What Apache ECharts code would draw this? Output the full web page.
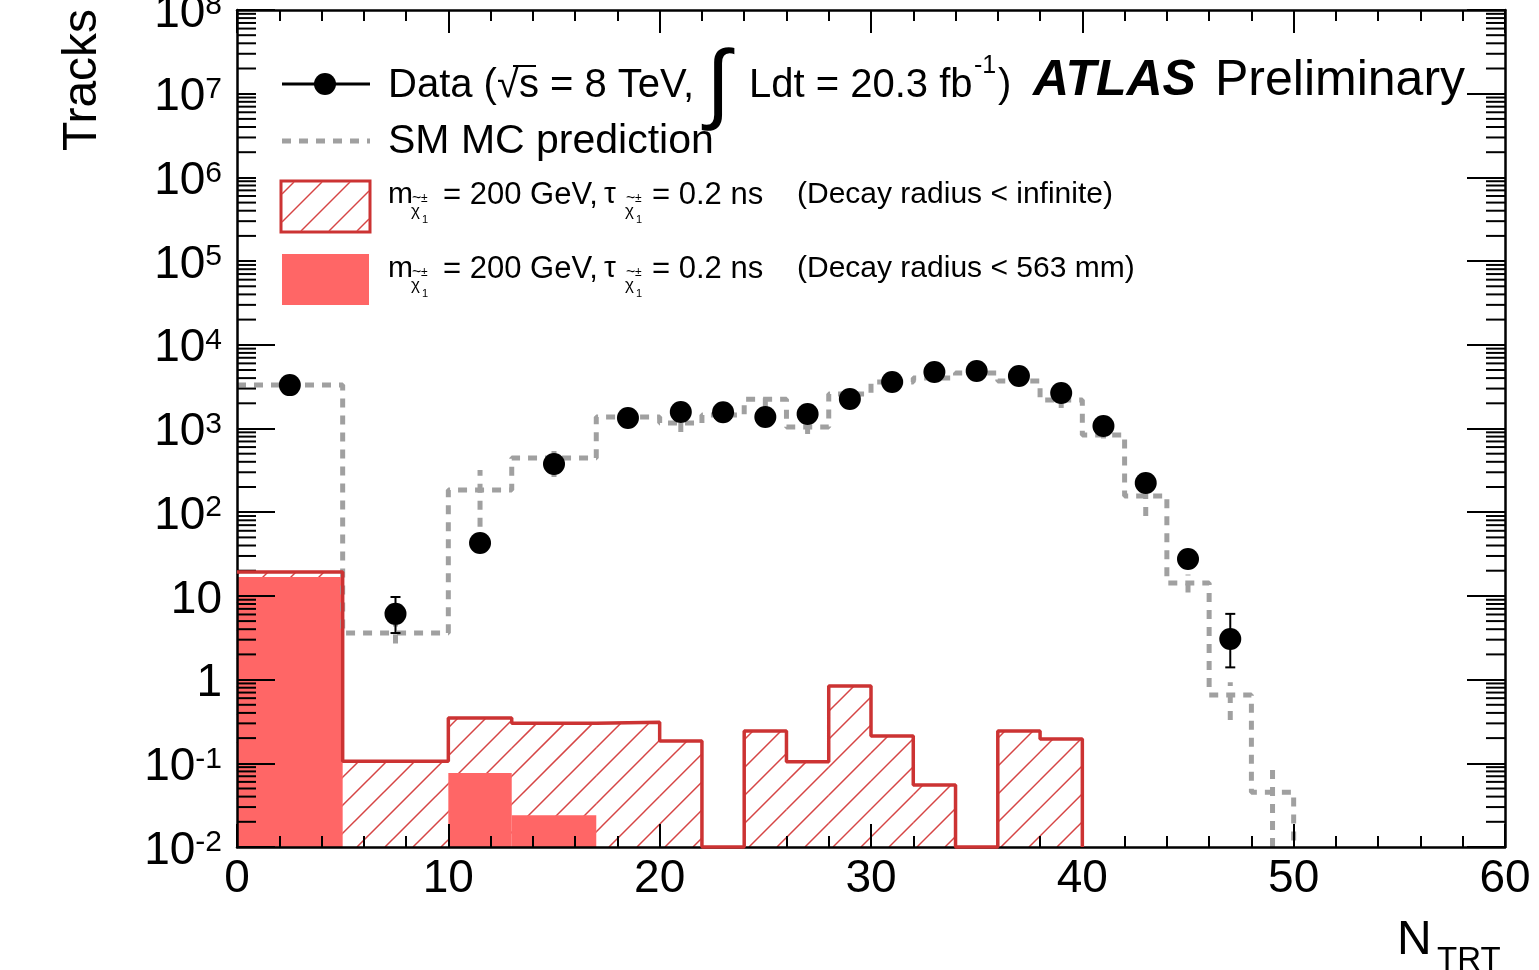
<!DOCTYPE html>
<html>
<head>
<meta charset="utf-8">
<script src="https://cdn.jsdelivr.net/npm/echarts@6/dist/echarts.min.js"></script>
<style>
html,body{margin:0;padding:0;background:#fff}
#chart{width:1539px;height:970px}
</style>
</head>
<body>
<div id="chart"></div>
<script>
// bin edges of the N_TRT histograms
var binEdges = [0,5,10,13,17,20,22,24,26,28,30,32,34,36,38,40,42,44,46,48,50];
// SM MC prediction per bin, with its error band
var mcValues = [3300,3.6,184,444,1370,1160,1450,2240,1040,2590,3590,4010,4600,3700,2190,836,156,14.3,0.655,0.045];
var mcLow    = [3200,2.7,67,263,1300,908,1380,1800,860,2450,3450,3850,4450,3550,1760,760,90,11,0.33,0.005];
var mcHigh   = [3400,4.6,319,553,1450,1420,1520,2730,1230,2730,3730,4170,4750,3850,2620,910,220,18,0.93,0.083];
// data points
var dataX    = [2.5,7.5,11.5,15,18.5,21,23,25,27,29,31,33,35,37,39,41,43,45,47];
var dataY    = [3300,6.1,42.9,377,1335,1574,1560,1371,1490,2250,3600,4730,4860,4240,2660,1070,223,27.6,3.05];
var dataLow  = [3243,3.6,36.4,358,1298,1534,1520,1334,1451,2203,3540,4661,4790,4175,2608,1037,208,22.4,1.4];
var dataHigh = [3357,9.7,49.5,396,1372,1614,1600,1408,1529,2297,3660,4799,4930,4305,2712,1103,238,32.9,6.1];
// signal, decay radius < infinite (hatched) and < 563 mm (filled)
var sigAll   = [19.3,0.106,0.348,0.30,0.31,0.185,0,0.243,0.104,0.84,0.212,0.055,0,0.243,0.195,0,0,0,0,0];
var sig563   = [16.8,0,0.0766,0.024,0,0,0,0,0,0,0,0,0,0,0,0,0,0,0,0];
// y axis decades (log10)
var yDecades = [-2,-1,0,1,2,3,4,5,6,7,8];

var YMIN = -2, YMAX = 8;
var FONT = 'Liberation Sans, Arial, sans-serif';
var RED = '#cc3333';
var HATCH = '#d64545';
var GRAY = '#a0a0a0';

function lg(v) { return v > 0 ? Math.max(Math.log10(v), YMIN) : YMIN; }

// hatch "/" lines inside a pixel rectangle
function hatchSegs(left, top, right, bottom, step, style) {
    var out = [];
    var c0 = Math.ceil((left + top) / step) * step;
    for (var c = c0; c <= right + bottom; c += step) {
        var xa = Math.max(left, c - bottom), xb = Math.min(right, c - top);
        if (xb > xa) out.push({type: 'line', shape: {x1: xa, y1: c - xa, x2: xb, y2: c - xb}, style: style});
    }
    return out;
}

function stepPts(vals) {
    var n = vals.length;
    while (n > 0 && !(vals[n - 1] > 0)) n--;
    var pts = [];
    for (var i = 0; i < n; i++) {
        var y = lg(vals[i]);
        pts.push([binEdges[i], y], [binEdges[i + 1], y]);
    }
    pts.push([binEdges[n], YMIN]);
    return pts;
}

var hatchData = [], fillData = [], mcErr = [], dataErr = [], dataPts = [], minorData = [];
for (var i = 0; i < sigAll.length; i++) {
    if (sigAll[i] > 0) hatchData.push([binEdges[i], lg(sigAll[i]), binEdges[i + 1]]);
    if (sig563[i] > 0) fillData.push([binEdges[i], lg(sig563[i]), binEdges[i + 1]]);
}
for (var i = 0; i < mcValues.length; i++) {
    mcErr.push([(binEdges[i] + binEdges[i + 1]) / 2, lg(mcLow[i]), lg(mcHigh[i])]);
}
for (var i = 0; i < dataX.length; i++) {
    dataPts.push([dataX[i], lg(dataY[i])]);
    dataErr.push([dataX[i], lg(dataLow[i]), lg(dataHigh[i])]);
}
for (var d = 0; d < yDecades.length - 1; d++) {
    for (var k = 2; k <= 9; k++) minorData.push([0, yDecades[d] + Math.log10(k)]);
}

function yLabel(v) {
    if (v === 0) return '{b|1}';
    if (v === 1) return '{b|10}';
    return '{b|10}{s|' + v + '}';
}

function xAxisOpt(pos) {
    return {
        type: 'value', min: 0, max: 60, interval: 10, position: pos, z: 10,
        axisLine: {show: true, onZero: false, lineStyle: {color: '#000', width: 2.5}},
        axisTick: {show: true, inside: true, length: 23, lineStyle: {color: '#000', width: 2}},
        minorTick: {show: true, splitNumber: 5, length: 11, lineStyle: {color: '#000', width: 2}},
        axisLabel: {show: pos === 'bottom', fontSize: 46, fontFamily: FONT, color: '#000', margin: 9, lineHeight: 46},
        splitLine: {show: false}, minorSplitLine: {show: false}
    };
}
function yAxisOpt(pos) {
    return {
        type: 'value', min: YMIN, max: YMAX, interval: 1, position: pos, z: 10,
        axisLine: {show: true, onZero: false, lineStyle: {color: '#000', width: 2.5}},
        axisTick: {show: true, inside: true, length: 38, lineStyle: {color: '#000', width: 2}},
        axisLabel: {
            show: pos === 'left', margin: 15, formatter: yLabel, padding: [8, 0, 0, 0],
            rich: {
                b: {fontSize: 46, fontFamily: FONT, color: '#000', lineHeight: 46},
                s: {fontSize: 30, fontFamily: FONT, color: '#000', lineHeight: 30, verticalAlign: 'top'}
            }
        },
        splitLine: {show: false}
    };
}

function txt(x, y, s, size, extra) {
    var st = {text: s, x: 0, y: 0, fontSize: size, fontFamily: FONT, fill: '#000', align: 'left', verticalAlign: 'middle'};
    for (var k in extra || {}) st[k] = extra[k];
    return {type: 'text', x: x, y: y, z: 52, style: st};
}
// chi~ subscript with tilde, +- and 1
function chiSub(x, y) {
    return [
        txt(x + 1, y + 4, '~', 16),
        txt(x + 10, y + 4, '\u00b1', 12),
        txt(x, y + 16, '\u03c7', 17),
        txt(x + 11, y + 25, '1', 11)
    ];
}

var legendBox = {type: 'group', z: 51, children: [
    {type: 'rect', shape: {x: 281, y: 181, width: 89, height: 51}, style: {fill: '#fff', stroke: RED, lineWidth: 3}, z: 51}
].concat(hatchSegs(282, 182, 369, 231, 28, {stroke: HATCH, lineWidth: 1.5}).map(function (e) { e.z = 51; return e; }))};

var tracksTitle = txt(83, 80, 'Tracks', 48, {align: 'center'});
tracksTitle.rotation = Math.PI / 2;

var graphics = [
    {type: 'rect', shape: {x: 256, y: 35, width: 894, height: 283}, style: {fill: '#fff'}, z: 50},
    {type: 'line', shape: {x1: 282, y1: 84, x2: 370, y2: 84}, style: {stroke: '#000', lineWidth: 3}, z: 51},
    {type: 'circle', shape: {cx: 325, cy: 84, r: 11}, style: {fill: '#000'}, z: 51},
    {type: 'line', shape: {x1: 282, y1: 141, x2: 370, y2: 141}, style: {stroke: GRAY, lineWidth: 5, lineDash: [9, 8]}, z: 51},
    legendBox,
    {type: 'rect', shape: {x: 282, y: 254, width: 87, height: 51}, style: {fill: '#ff6666'}, z: 51},
    txt(388, 86, 'Data (\u221as = 8 TeV,', 40),
    {type: 'line', shape: {x1: 513, y1: 66, x2: 536, y2: 66}, style: {stroke: '#000', lineWidth: 2}, z: 52},
    txt(706, 88, '\u222b', 88),
    txt(749, 86, 'Ldt = 20.3 fb', 40),
    txt(974, 66, '-1', 25),
    txt(998, 86, ')', 40),
    txt(1033, 81, 'ATLAS', 50, {fontWeight: 'bold', fontStyle: 'italic'}),
    txt(1215, 81, 'Preliminary', 50),
    txt(388, 142, 'SM MC prediction', 41),

    txt(388, 195, 'm', 30),
    txt(443, 195, '= 200 GeV,', 31),
    txt(604, 195, '\u03c4', 30),
    txt(652, 195, '= 0.2 ns', 31),
    txt(797, 195, '(Decay radius < infinite)', 30),
    txt(388, 269, 'm', 30),
    txt(443, 269, '= 200 GeV,', 31),
    txt(604, 269, '\u03c4', 30),
    txt(652, 269, '= 0.2 ns', 31),
    txt(797, 269, '(Decay radius < 563 mm)', 30),

    tracksTitle,
    txt(1397, 941, 'N', 48),
    txt(1437, 961, 'TRT', 33)
].concat(chiSub(411, 195), chiSub(625, 195), chiSub(411, 269), chiSub(625, 269));

var myChart = echarts.init(document.getElementById('chart'));
var option = {
    animation: false,
    backgroundColor: '#fff',
    grid: {left: 237, right: 34, top: 10, bottom: 123, containLabel: false, outerBoundsMode: 'none'},
    xAxis: [xAxisOpt('bottom'), xAxisOpt('top')],
    yAxis: [yAxisOpt('left'), yAxisOpt('right')],
    series: [
        {
            name: 'hatch', type: 'custom', z: 1, data: hatchData,
            renderItem: function (params, api) {
                var a = api.coord([api.value(0), api.value(1)]);
                var b = api.coord([api.value(2), YMIN]);
                return {type: 'group', children: hatchSegs(a[0], a[1], b[0], b[1], 28, {stroke: HATCH, lineWidth: 1.5})};
            }
        },
        {
            name: 'Decay radius < 563 mm', type: 'custom', z: 2, data: fillData,
            renderItem: function (params, api) {
                var a = api.coord([api.value(0), api.value(1)]);
                var b = api.coord([api.value(2), YMIN]);
                return {type: 'rect', shape: {x: a[0], y: a[1], width: b[0] - a[0], height: b[1] - a[1]}, style: {fill: '#ff6666'}};
            }
        },
        {
            name: 'Decay radius < infinite', type: 'line', z: 11, clip: false, data: stepPts(sigAll),
            showSymbol: false, symbol: 'none', lineStyle: {color: RED, width: 3.5}
        },
        {
            name: 'SM MC prediction', type: 'line', z: 4, data: stepPts(mcValues),
            showSymbol: false, symbol: 'none', lineStyle: {color: GRAY, width: 5, type: [9, 8]}
        },
        {
            name: 'MC error', type: 'custom', z: 4, data: mcErr,
            renderItem: function (params, api) {
                var lo = api.coord([api.value(0), api.value(1)]);
                var hi = api.coord([api.value(0), api.value(2)]);
                return {type: 'line', shape: {x1: lo[0], y1: lo[1], x2: hi[0], y2: hi[1]}, style: {stroke: GRAY, lineWidth: 5, lineDash: [9, 8]}};
            }
        },
        {
            name: 'Data error', type: 'custom', z: 5, data: dataErr,
            renderItem: function (params, api) {
                var lo = api.coord([api.value(0), api.value(1)]);
                var hi = api.coord([api.value(0), api.value(2)]);
                var st = {stroke: '#000', lineWidth: 2};
                return {type: 'group', children: [
                    {type: 'line', shape: {x1: lo[0], y1: lo[1], x2: hi[0], y2: hi[1]}, style: st},
                    {type: 'line', shape: {x1: lo[0] - 5, y1: lo[1], x2: lo[0] + 5, y2: lo[1]}, style: st},
                    {type: 'line', shape: {x1: hi[0] - 5, y1: hi[1], x2: hi[0] + 5, y2: hi[1]}, style: st}
                ]};
            }
        },
        {
            name: 'Data', type: 'scatter', z: 6, data: dataPts,
            symbol: 'circle', symbolSize: 22, itemStyle: {color: '#000', opacity: 1}
        },
        {
            name: 'minor ticks', type: 'custom', z: 10, data: minorData,
            renderItem: function (params, api) {
                var l = api.coord([0, api.value(1)]);
                var r = api.coord([60, api.value(1)]);
                var st = {stroke: '#000', lineWidth: 2};
                return {type: 'group', children: [
                    {type: 'line', shape: {x1: l[0], y1: l[1], x2: l[0] + 19, y2: l[1]}, style: st},
                    {type: 'line', shape: {x1: r[0], y1: r[1], x2: r[0] - 19, y2: r[1]}, style: st}
                ]};
            }
        }
    ],
    graphic: graphics
};
myChart.setOption(option);
</script>
</body>
</html>
